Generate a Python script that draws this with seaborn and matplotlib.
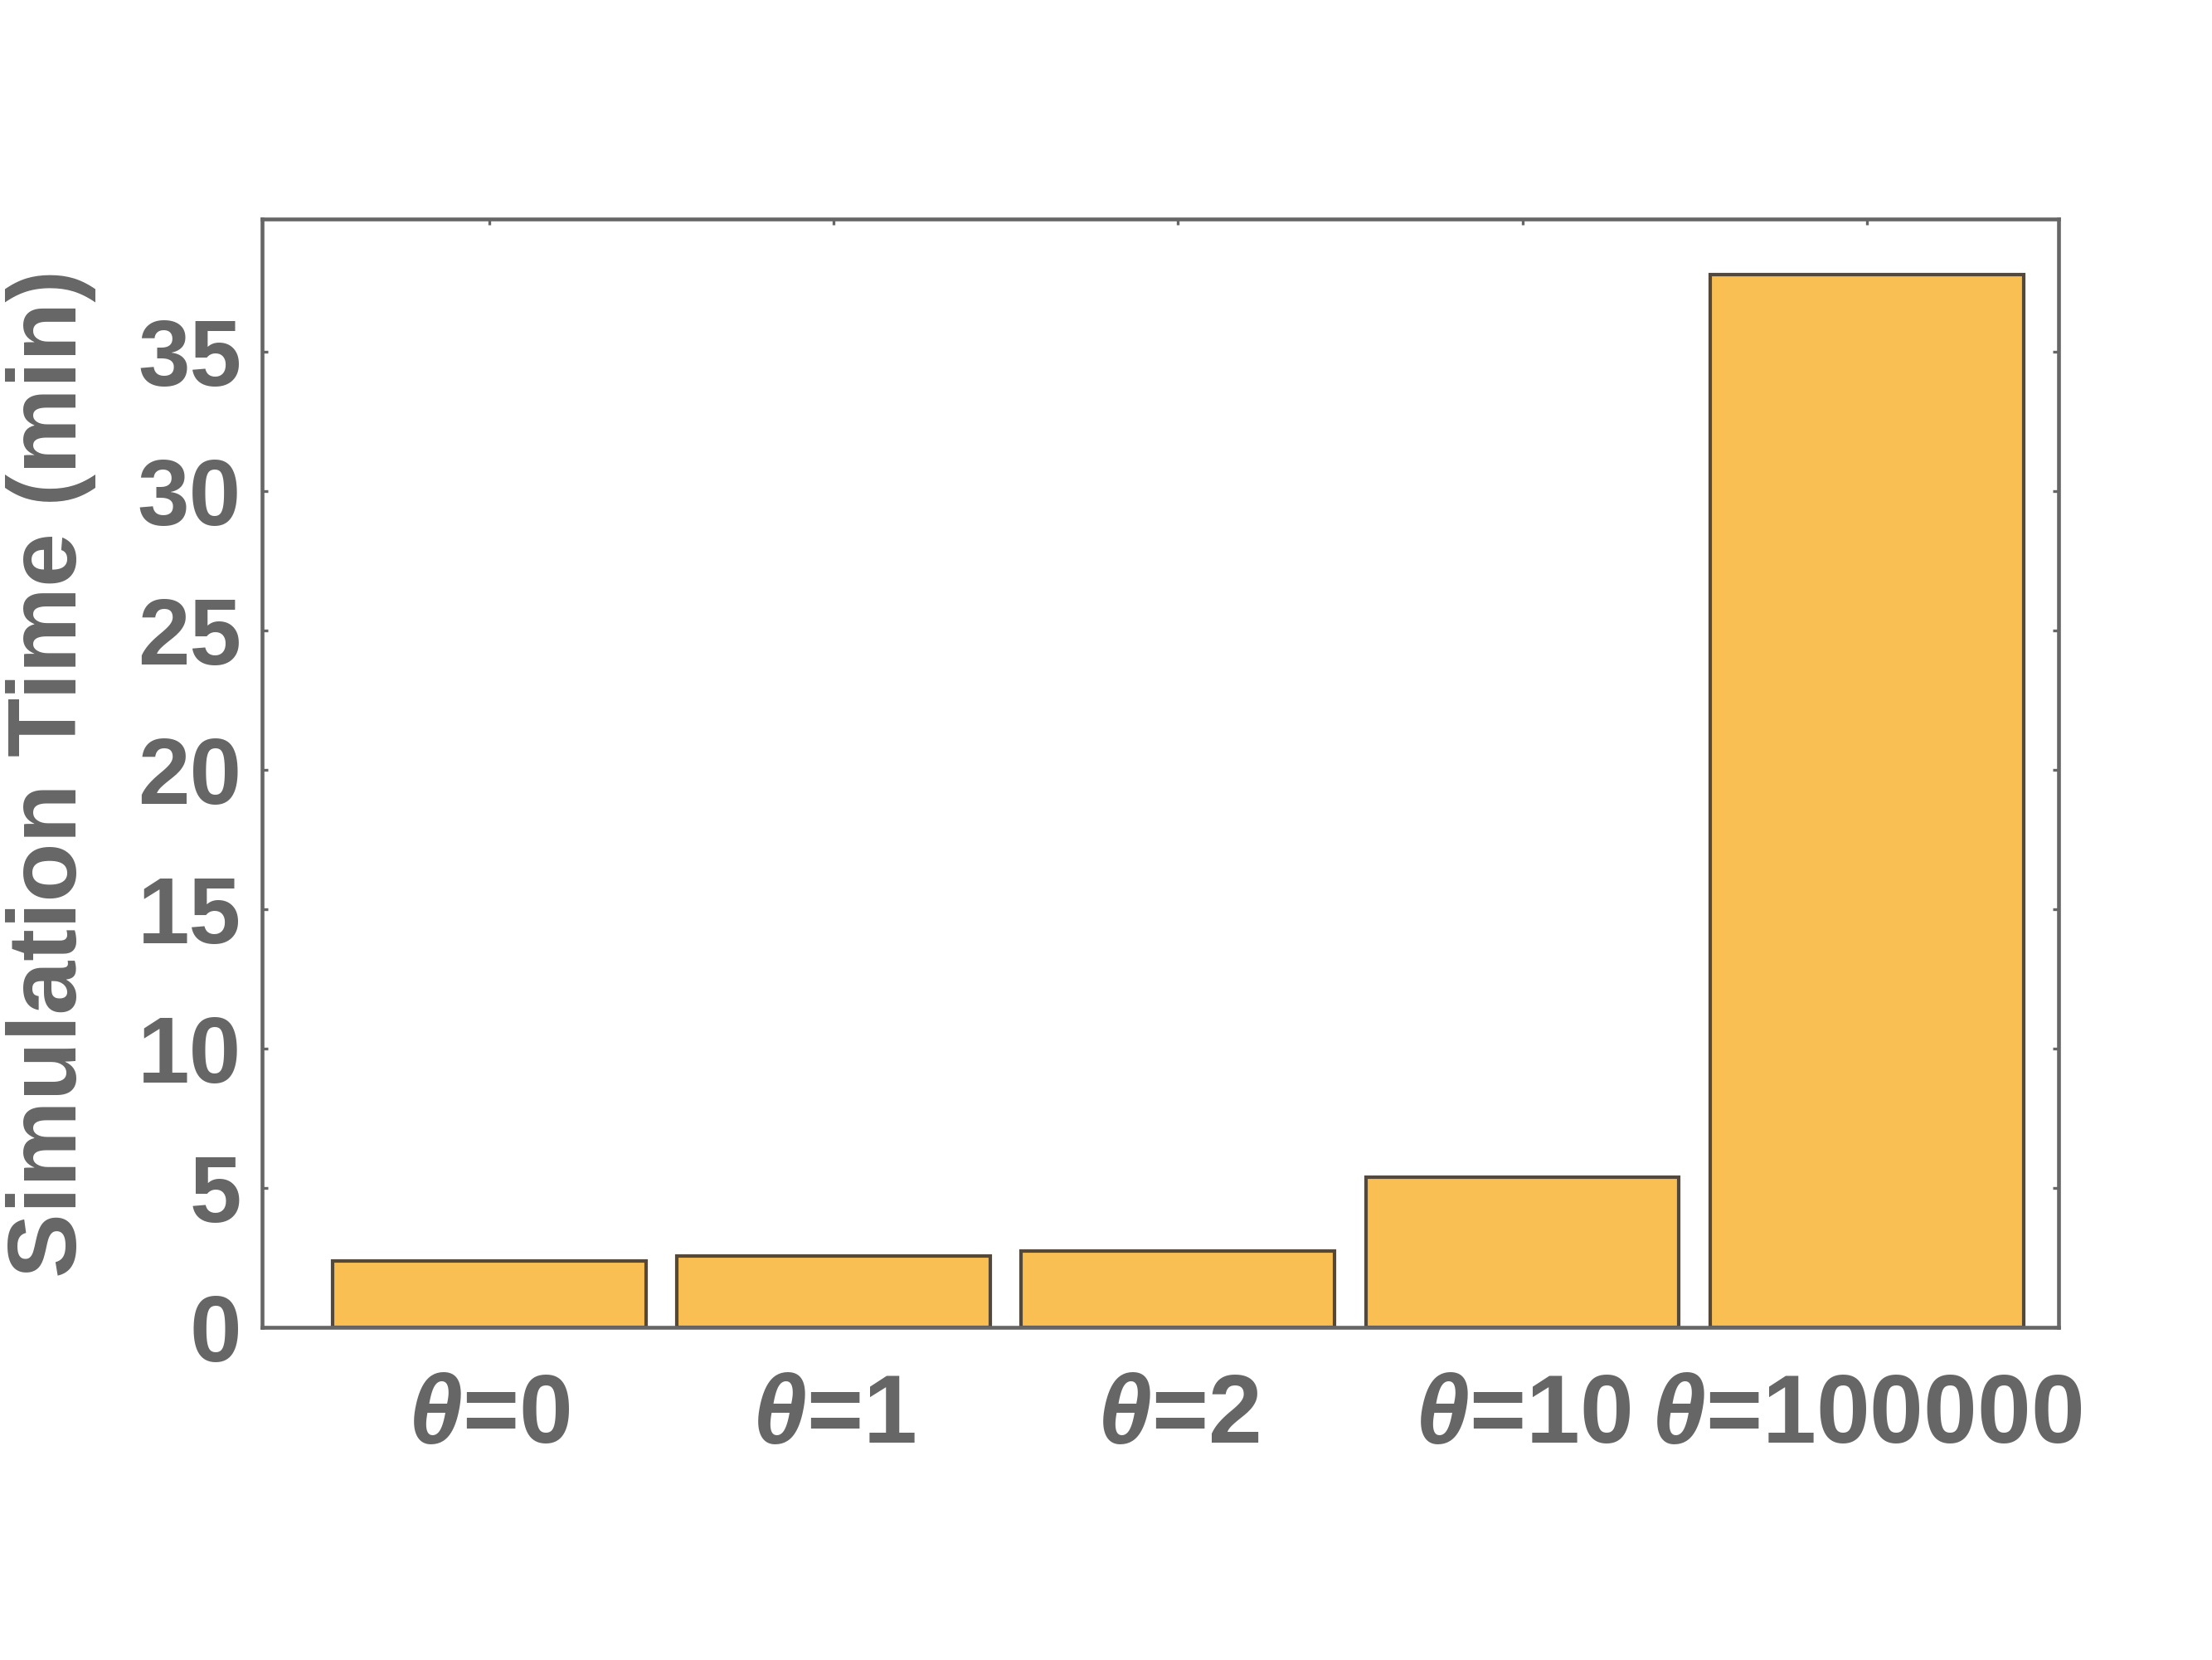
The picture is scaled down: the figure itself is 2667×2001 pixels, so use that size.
import matplotlib
matplotlib.use("Agg")
import matplotlib.pyplot as plt
import seaborn as sns
import pandas as pd

categories = ["0", "1", "2", "10", "100000"]
sim_time_min = [2.38, 2.56, 2.73, 5.39, 37.77]
y_ticks = [0, 5, 10, 15, 20, 25, 30, 35]

sns.set_theme(style="white")
plt.rcParams['font.family'] = ['Liberation Sans', 'DejaVu Sans']
plt.rcParams['font.weight'] = 'bold'
plt.rcParams['mathtext.fontset'] = 'custom'
plt.rcParams['mathtext.bfit'] = 'Liberation Sans:italic:bold'
plt.rcParams['mathtext.it'] = 'Liberation Sans:italic:bold'
plt.rcParams['mathtext.rm'] = 'Liberation Sans:bold'

grey = '#666666'
labels = [r'$\mathbfit{\theta}$=' + c for c in categories]
df = pd.DataFrame({"theta": labels, "time": sim_time_min})

fig = plt.figure(figsize=(2667/300, 2001/300), dpi=300)
ax = fig.add_axes([0.1185, 0.2004, 0.9306 - 0.1185, 0.868 - 0.2004])

sns.barplot(data=df, x="theta", y="time", color='#F9BF53', saturation=1,
            width=0.91, edgecolor='#54483a', linewidth=1.0, ax=ax)

ax.set_xlim(-0.66, 4.557)
ax.set_ylim(0, 39.75)
ax.set_yticks(y_ticks)
ax.set_xlabel("")
ax.set_ylabel("Simulation Time (min)", fontsize=28, fontweight='bold', color=grey, labelpad=12)

for s in ax.spines.values():
    s.set_visible(True)
    s.set_color(grey)
    s.set_linewidth(1.1)

ax.tick_params(axis='both', which='both', direction='in', length=1.6, width=0.8,
               color=grey, labelcolor=grey, top=True, right=True, bottom=True, left=True)
ax.tick_params(axis='x', labelsize=28, pad=13)
ax.tick_params(axis='y', labelsize=27, pad=6)
for t in ax.get_xticklabels() + ax.get_yticklabels():
    t.set_fontweight('bold')

fig.savefig("out.png", dpi=300, facecolor='white')
